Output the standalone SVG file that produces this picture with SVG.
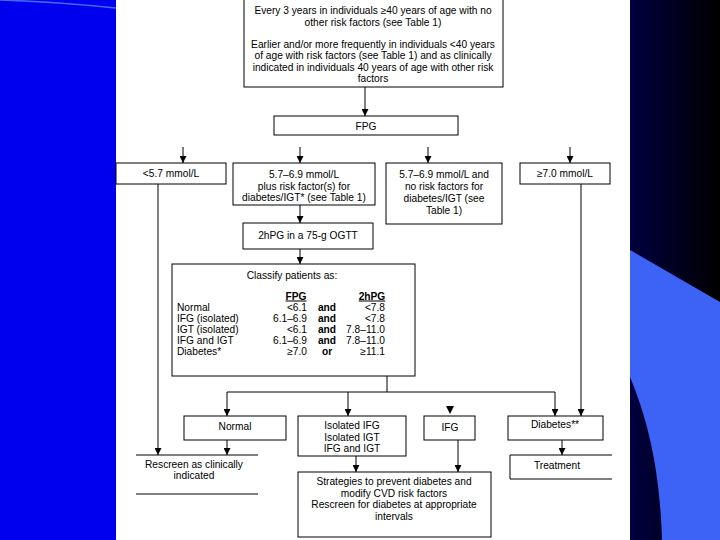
<svg xmlns="http://www.w3.org/2000/svg" width="720" height="540" viewBox="0 0 720 540">
<defs>
<linearGradient id="dark" x1="0" y1="0" x2="1" y2="0">
<stop offset="0" stop-color="#00003f"/>
<stop offset="1" stop-color="#000000"/>
</linearGradient>
<marker id="ah" viewBox="0 0 8 8" refX="8" refY="4" markerWidth="7" markerHeight="7" orient="auto" markerUnits="userSpaceOnUse">
<path d="M0,0 L8,4 L0,8 z" fill="#000"/>
</marker>
<style>
text{font-family:"Liberation Sans",Arial,sans-serif;font-size:10.2px;fill:#000}
.c{text-anchor:middle}
.r{text-anchor:end}
.b{font-weight:bold}
.u{text-decoration:underline}
.box{fill:#fff;stroke:#000;stroke-width:1}
.ln{fill:none;stroke:#000;stroke-width:1}
.ar{fill:none;stroke:#000;stroke-width:1;marker-end:url(#ah)}
</style>
</defs>
<g id="background">
<rect x="0" y="0" width="720" height="540" fill="#fff"/>
<rect x="0" y="0" width="116" height="540" fill="#0000ee"/>
<path d="M0,0 Q60,2 116,8" fill="none" stroke="#3f6cff" stroke-width="1.5"/>
<rect x="630" y="0" width="90" height="540" fill="url(#dark)"/>
<path d="M630,250 L720,302 L720,540 L662,540 C660,470 648,420 630,377 Z" fill="#3d62f6"/>
</g>
<g id="connectors">
<path class="ar" d="M365,87 V116"/>
<path class="ar" d="M183,147 V163"/>
<path class="ar" d="M300,147 V163"/>
<path class="ar" d="M428,147 V163"/>
<path class="ar" d="M570,147 V163"/>
<path class="ar" d="M300,205 V223"/>
<path class="ar" d="M300,249 V264"/>
<path class="ar" d="M158,184 V455"/>
<path class="ar" d="M581,184 V416"/>
<path class="ln" d="M387,376 V392 M227,392 H555"/>
<path class="ar" d="M227,392 V416"/>
<path class="ar" d="M348,392 V416"/>
<path class="ar" d="M555,392 V416"/>
<path class="ar" d="M227,440 V455"/>
<path class="ar" d="M356,456 V472"/>
<path class="ar" d="M458,440 V472"/>
<path class="ar" d="M562,440 V455"/>
<path d="M446,406 L454,406 L450,414 Z" fill="#000"/>
</g>
<g id="screen">
<rect class="box" x="244" y="-1" width="259" height="88"/>
<text class="c" x="373" y="14">Every 3 years in individuals ≥40 years of age with no</text>
<text class="c" x="373" y="26">other risk factors (see Table 1)</text>
<text class="c" x="373" y="48">Earlier and/or more frequently in individuals &lt;40 years</text>
<text class="c" x="373" y="59">of age with risk factors (see Table 1) and as clinically</text>
<text class="c" x="373" y="71">indicated in individuals 40 years of age with other risk</text>
<text class="c" x="373" y="82">factors</text>
</g>
<g id="fpg">
<rect class="box" x="274" y="116" width="184" height="19"/>
<text class="c" x="366" y="129.5">FPG</text>
</g>
<g id="lt57">
<rect class="box" x="116" y="163" width="110" height="21"/>
<text class="c" x="171" y="177">&lt;5.7 mmol/L</text>
</g>
<g id="range-risk">
<rect class="box" x="233" y="163" width="142" height="42"/>
<text class="c" x="304" y="178">5.7–6.9 mmol/L</text>
<text class="c" x="304" y="190">plus risk factor(s) for</text>
<text class="c" x="304" y="201">diabetes/IGT* (see Table 1)</text>
</g>
<g id="range-norisk">
<rect class="box" x="386" y="163" width="116" height="61"/>
<text class="c" x="444" y="178">5.7–6.9 mmol/L and</text>
<text class="c" x="444" y="190">no risk factors for</text>
<text class="c" x="444" y="202">diabetes/IGT (see</text>
<text class="c" x="444" y="214">Table 1)</text>
</g>
<g id="ge70">
<rect class="box" x="520" y="163" width="90" height="21"/>
<text class="c" x="565" y="177">≥7.0 mmol/L</text>
</g>
<g id="ogtt">
<rect class="box" x="243" y="223" width="130" height="26" stroke-width="1.6"/>
<text class="c" x="308" y="239">2hPG in a 75-g OGTT</text>
</g>
<g id="classify">
<rect class="box" x="172" y="264" width="243" height="112"/>
<text class="c" x="292" y="279">Classify patients as:</text>
<text class="c b u" x="296" y="299.5">FPG</text>
<text class="c b u" x="372" y="299.5">2hPG</text>
<text x="177" y="310.5">Normal</text>
<text x="177" y="321.5">IFG (isolated)</text>
<text x="177" y="332.5">IGT (isolated)</text>
<text x="177" y="343.5">IFG and IGT</text>
<text x="177" y="354.5">Diabetes*</text>
<text class="r" x="307" y="310.5">&lt;6.1</text>
<text class="r" x="307" y="321.5">6.1–6.9</text>
<text class="r" x="307" y="332.5">&lt;6.1</text>
<text class="r" x="307" y="343.5">6.1–6.9</text>
<text class="r" x="307" y="354.5">≥7.0</text>
<text class="c b" x="327" y="310.5">and</text>
<text class="c b" x="327" y="321.5">and</text>
<text class="c b" x="327" y="332.5">and</text>
<text class="c b" x="327" y="343.5">and</text>
<text class="c b" x="327" y="354.5">or</text>
<text class="r" x="385" y="310.5">&lt;7.8</text>
<text class="r" x="385" y="321.5">&lt;7.8</text>
<text class="r" x="385" y="332.5">7.8–11.0</text>
<text class="r" x="385" y="343.5">7.8–11.0</text>
<text class="r" x="385" y="354.5">≥11.1</text>
</g>
<g id="normal">
<rect class="box" x="184" y="416" width="102" height="24"/>
<text class="c" x="235" y="430">Normal</text>
</g>
<g id="isolated">
<rect class="box" x="298" y="416" width="108" height="40"/>
<text class="c" x="352" y="429">Isolated IFG</text>
<text class="c" x="352" y="441">Isolated IGT</text>
<text class="c" x="352" y="452">IFG and IGT</text>
</g>
<g id="ifg">
<rect class="box" x="424" y="416" width="51" height="24"/>
<text class="c" x="450" y="431">IFG</text>
</g>
<g id="diabetes">
<rect class="box" x="508" y="416" width="95" height="24"/>
<text class="c" x="555" y="428">Diabetes**</text>
</g>
<g id="rescreen">
<path class="ln" d="M136,455 H258 M136,494 H258"/>
<text class="c" x="194" y="468">Rescreen as clinically</text>
<text class="c" x="194" y="479">indicated</text>
</g>
<g id="strategies">
<rect class="box" x="298" y="472" width="193" height="65"/>
<text class="c" x="394" y="485">Strategies to prevent diabetes and</text>
<text class="c" x="394" y="497">modify CVD risk factors</text>
<text class="c" x="394" y="508">Rescreen for diabetes at appropriate</text>
<text class="c" x="394" y="520">intervals</text>
</g>
<g id="treatment">
<path class="ln" d="M612,455 H510 V479 H612"/>
<text class="c" x="557" y="468.5">Treatment</text>
</g>
</svg>
